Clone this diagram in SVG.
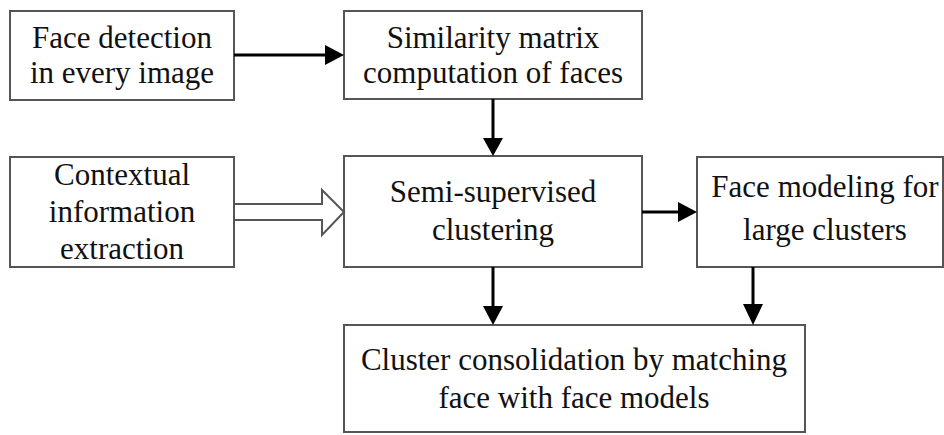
<svg xmlns="http://www.w3.org/2000/svg" width="944" height="435" viewBox="0 0 944 435">
<style>
.box{fill:#fff;stroke:#555;stroke-width:2}
.t{font-family:'Liberation Serif','DejaVu Serif',serif;font-size:31px;fill:#111;text-anchor:middle}
.c{stroke:#000;stroke-width:3;fill:none}
.h{fill:#000}
</style>
<rect width="944" height="435" fill="#fff"/>
<g id="n1"><rect class="box" x="10" y="11" width="224" height="89"/>
<text class="t" font-family="Liberation Serif, serif" x="122" y="48">Face detection</text><text class="t" font-family="Liberation Serif, serif" x="122" y="83">in every image</text></g>
<g id="n2"><rect class="box" x="344" y="11" width="298" height="88"/>
<text class="t" font-family="Liberation Serif, serif" x="493" y="48">Similarity matrix</text><text class="t" font-family="Liberation Serif, serif" x="493" y="83">computation of faces</text></g>
<g id="n3"><rect class="box" x="10" y="157" width="224" height="110"/>
<text class="t" font-family="Liberation Serif, serif" x="122" y="185">Contextual</text><text class="t" font-family="Liberation Serif, serif" x="122" y="222">information</text><text class="t" font-family="Liberation Serif, serif" x="122" y="259">extraction</text></g>
<g id="n4"><rect class="box" x="344" y="156" width="298" height="111"/>
<text class="t" font-family="Liberation Serif, serif" x="493" y="202">Semi-supervised</text><text class="t" font-family="Liberation Serif, serif" x="493" y="240">clustering</text></g>
<g id="n5"><rect class="box" x="697" y="157" width="246" height="110"/>
<text class="t" font-family="Liberation Serif, serif" x="825" y="197">Face modeling for</text><text class="t" font-family="Liberation Serif, serif" x="825" y="240">large clusters</text></g>
<g id="n6"><rect class="box" x="344" y="325" width="461" height="107"/>
<text class="t" font-family="Liberation Serif, serif" x="574" y="370">Cluster consolidation by matching</text><text class="t" font-family="Liberation Serif, serif" x="574" y="408">face with face models</text></g>
<g id="connectors">
<line class="c" x1="234" y1="55" x2="327" y2="55"/><polygon class="h" points="325,45 344,55 325,65"/>
<line class="c" x1="493" y1="99" x2="493" y2="140"/><polygon class="h" points="483,138 493,156 503,138"/>
<line class="c" x1="642" y1="212" x2="680" y2="212"/><polygon class="h" points="678,202 697,212 678,222"/>
<line class="c" x1="493" y1="267" x2="493" y2="308"/><polygon class="h" points="483,306 493,325 503,306"/>
<line class="c" x1="753" y1="267" x2="753" y2="306"/><polygon class="h" points="743,304 753,325 763,304"/>
<polygon points="234,204 322,204 322,190 344,212 322,235 322,220 234,220" fill="#fff" stroke="#555" stroke-width="2"/>
</g>
</svg>
